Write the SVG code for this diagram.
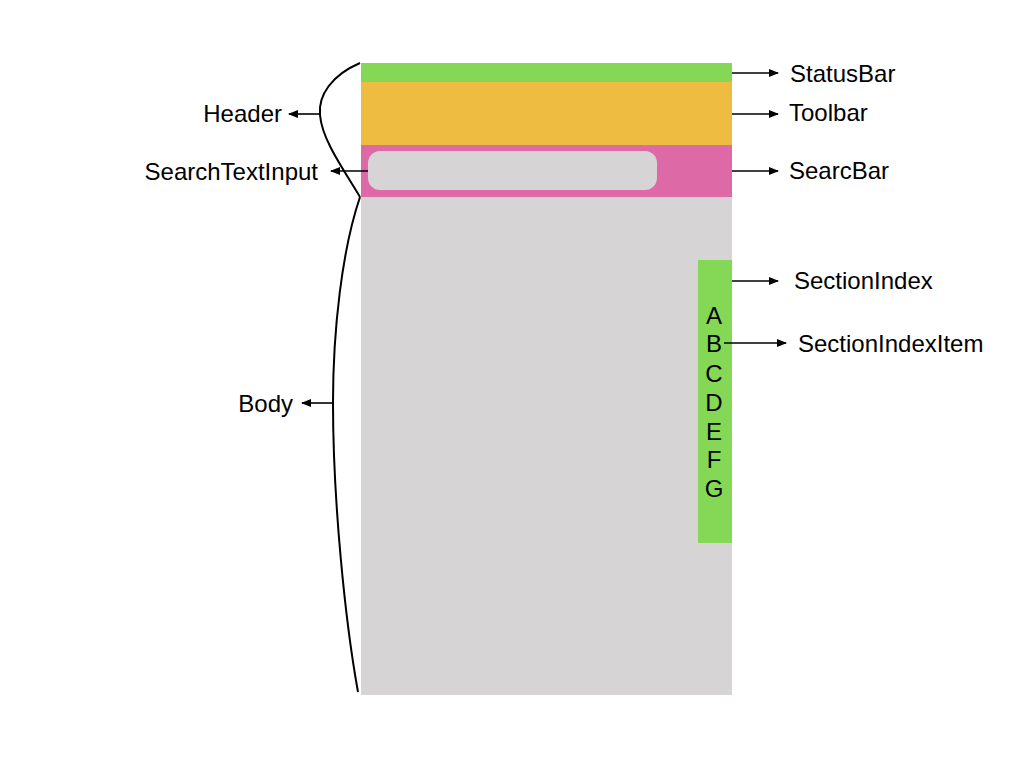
<svg xmlns="http://www.w3.org/2000/svg" width="1024" height="768" viewBox="0 0 1024 768">
<style>
text{font-family:"Liberation Sans",Arial,sans-serif;font-size:24px;fill:#000}
.c{stroke:#000;stroke-width:2;fill:none}
.a{stroke:#000;stroke-width:1.6;fill:none;marker-end:url(#ah)}
.l{text-anchor:middle}
</style>
<defs>
<marker id="ah" markerWidth="10" markerHeight="8" refX="9" refY="4" orient="auto" markerUnits="userSpaceOnUse">
<path d="M0,0 L10,4 L0,8 Z" fill="#000"/>
</marker>
</defs>
<rect width="1024" height="768" fill="#fff"/>
<g id="body"><rect x="361" y="197" width="371" height="498" fill="#d6d4d5"/></g>
<g id="statusbar"><rect x="361" y="63" width="371" height="19" fill="#84d856"/></g>
<g id="toolbar"><rect x="361" y="82" width="371" height="63" fill="#eebc40"/></g>
<g id="searchbar"><rect x="361" y="145" width="371" height="52" fill="#dd6aa6"/></g>
<g id="searchtextinput"><rect x="368" y="151" width="289" height="39" rx="12" fill="#d6d4d5"/></g>
<g id="sectionindex"><rect x="698" y="260" width="34" height="283" fill="#84d856"/>
<text class="l" x="714" y="324">A</text>
<text class="l" x="714" y="352">B</text>
<text class="l" x="714" y="382">C</text>
<text class="l" x="714" y="411">D</text>
<text class="l" x="714" y="440">E</text>
<text class="l" x="714" y="468">F</text>
<text class="l" x="714" y="497">G</text>
</g>
<g id="connectors">
<path class="c" d="M360,63 C332,75 318,95 320,115 C322,140 344,170 360,197"/>
<path class="c" d="M360,197 C342,250 333,330 333,403 C333,500 345,620 358,692"/>
<path class="a" d="M320,114 L289,114"/>
<path class="a" d="M368,171 L331,171"/>
<path class="a" d="M333,403 L302,403"/>
<path class="a" d="M732,73 L778,73"/>
<path class="a" d="M732,114 L778,114"/>
<path class="a" d="M732,171 L778,171"/>
<path class="a" d="M732,281 L778,281"/>
<path class="a" d="M724,343 L786,343"/>
</g>
<g id="labels">
<text x="282" y="122" text-anchor="end">Header</text>
<text x="318" y="180" text-anchor="end">SearchTextInput</text>
<text x="293" y="412" text-anchor="end">Body</text>
<text x="790" y="82">StatusBar</text>
<text x="789" y="121">Toolbar</text>
<text x="789" y="179">SearcBar</text>
<text x="794" y="289">SectionIndex</text>
<text x="798" y="352">SectionIndexItem</text>
</g>
</svg>
